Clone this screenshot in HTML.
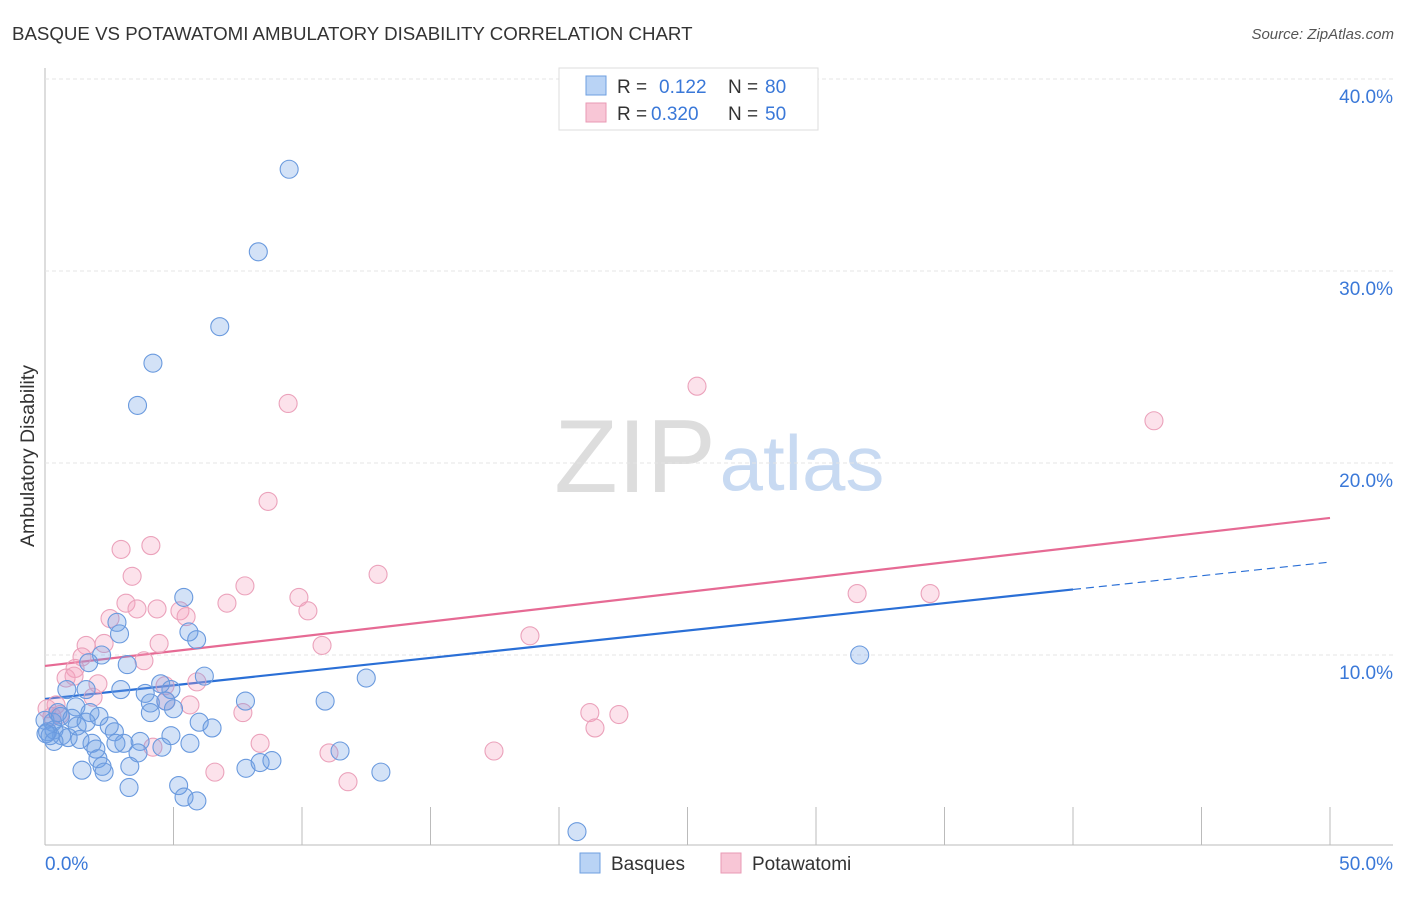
<!DOCTYPE html>
<html><head><meta charset="utf-8"><style>
body{margin:0;background:#fff;font-family:"Liberation Sans",sans-serif}
svg text{font-family:"Liberation Sans",sans-serif}
</style></head><body>
<svg id="c" width="1406" height="892">
<text x="12" y="40" font-size="18.7" fill="#333">BASQUE VS POTAWATOMI AMBULATORY DISABILITY CORRELATION CHART</text>
<text x="1394" y="39" font-size="15" fill="#555" font-style="italic" text-anchor="end">Source: ZipAtlas.com</text>
<text x="34" y="456" font-size="19.5" fill="#333" text-anchor="middle" transform="rotate(-90 34 456)">Ambulatory Disability</text>
<g><text x="635" y="492" font-size="104" fill="#ddd" font-family="Liberation Serif" text-anchor="middle">ZIP</text><text x="802" y="490" font-size="78" fill="#c8daf2" text-anchor="middle">atlas</text></g>
<g id="grid"></g><g id="lines"></g><g id="pts"></g>
<g>
<rect x="559" y="68" width="259" height="62" fill="#fff" stroke="#ddd"/>
<rect x="586" y="76" width="20" height="19" fill="#b9d3f5" stroke="#6e9fe0"/>
<text x="617" y="93" font-size="19" fill="#333">R = </text><text x="659" y="93" font-size="19" fill="#3a78d8">0.122</text>
<text x="728" y="93" font-size="19" fill="#333">N = </text><text x="765" y="93" font-size="19" fill="#3a78d8">80</text>
<rect x="586" y="103" width="20" height="19" fill="#f8c6d6" stroke="#e99ab4"/>
<text x="617" y="120" font-size="19" fill="#333">R = </text><text x="651" y="120" font-size="19" fill="#3a78d8">0.320</text>
<text x="728" y="120" font-size="19" fill="#333">N = </text><text x="765" y="120" font-size="19" fill="#3a78d8">50</text>
</g>
<g>
<rect x="580" y="853" width="20" height="20" fill="#b9d3f5" stroke="#6e9fe0"/><text x="611" y="870" font-size="19" fill="#333">Basques</text>
<rect x="721" y="853" width="20" height="20" fill="#f8c6d6" stroke="#e99ab4"/><text x="752" y="870" font-size="19" fill="#333">Potawatomi</text>
</g>
</svg>
<script>
const yTicks=[10,20,30,40];
const xTickLabels=["0.0%","50.0%"];
const basqueX=[9.5,8.3,6.8,4.2,3.6,5.4,2.8,2.9,5.6,5.9,1.7,2.2,3.2,31.7,6.2,4.5,4.9,0.85,1.6,2.95,3.9,7.8,10.9,12.5,4.1,5.0,4.7,4.1,1.2,1.75,2.1,0.6,0.0,0.3,1.05,2.5,6.0,6.5,0.1,0.35,0.65,0.9,1.36,1.83,2.7,3.07,3.7,4.9,5.64,2.76,1.98,2.06,3.62,4.55,2.22,3.3,2.3,1.44,7.82,8.37,8.83,11.48,13.07,5.2,5.41,5.91,3.27,20.7,0.35,0.2,0.04,0.5,1.25,1.6];
const basqueY=[35.3,31.0,27.1,25.2,23.0,13.0,11.7,11.1,11.2,10.8,9.6,10.0,9.5,10.0,8.9,8.5,8.2,8.2,8.2,8.2,8.0,7.6,7.6,8.8,7.5,7.2,7.6,7.0,7.3,7.0,6.8,6.8,6.6,6.5,6.7,6.3,6.5,6.2,6.0,6.1,5.8,5.7,5.6,5.4,6.0,5.4,5.5,5.8,5.4,5.4,5.1,4.6,4.9,5.2,4.2,4.2,3.9,4.0,4.1,4.4,4.5,5.0,3.9,3.2,2.6,2.4,3.1,0.8,5.5,5.8,5.9,7.0,6.3,6.5];
const potaX=[9.46,8.68,25.37,43.15,4.12,2.96,3.39,12.96,7.78,4.36,7.08,3.15,3.58,2.53,5.25,5.49,9.88,10.23,31.6,34.44,18.87,10.78,4.44,1.6,2.3,1.44,3.85,1.17,0.82,1.13,2.06,5.91,4.71,5.64,7.7,21.2,22.33,21.4,0.43,0.58,0.27,0.08,1.87,8.37,4.2,11.05,17.47,6.61,11.79,4.67];
const potaY=[23.1,18.0,24.0,22.2,15.7,15.5,14.1,14.2,13.6,12.4,12.7,12.7,12.4,11.9,12.3,12.0,13.0,12.3,13.2,13.2,11.0,10.5,10.6,10.5,10.6,9.9,9.7,9.3,8.8,8.9,8.5,8.6,7.6,7.4,7.0,7.0,6.9,6.2,7.4,6.9,6.8,7.2,7.8,5.4,5.2,4.9,5.0,3.9,3.4,8.4];
const basqueLine=[7.71,14.84], potaLine=[9.43,17.14];
const NS="http://www.w3.org/2000/svg";
const X0=45,X1=1330,Y0=847,PX=19.2;
const sx=v=>X0+(X1-X0)*v/50, sy=v=>Y0-v*PX;
function mk(tag,a,parent){const e=document.createElementNS(NS,tag);for(const k in a)e.setAttribute(k,a[k]);parent.appendChild(e);return e;}
const grid=document.getElementById('grid');
let ax=mk('line',{x1:45,y1:68,x2:45,y2:845,stroke:'#bbb'},grid);


let bx=mk('line',{x1:45,y1:845,x2:1393,y2:845,stroke:'#bbb'},grid);


for(let i=1;i<=10;i++){const x=sx(i*5);const t=mk('line',{x1:x,y1:807,x2:x,y2:845,stroke:'#bbb'},grid);

}
yTicks.forEach(v=>{const l=mk('line',{x1:45,y1:sy(v),x2:1393,y2:sy(v),stroke:'#e4e4e4','stroke-dasharray':'4,3'},grid);


const t=mk('text',{x:1393,y:sy(v)+24,'font-size':19,fill:'#3a78d8','text-anchor':'end'},grid);t.textContent=v.toFixed(1)+'%';

});
xTickLabels.forEach((s,i)=>{const t=mk('text',{x:i?1393:45,y:870,'font-size':19,fill:'#3a78d8','text-anchor':i?'end':'start'},grid);t.textContent=s;

});
const pts=document.getElementById('pts');
function series(xs,ys,fill,stroke,name){xs.forEach((x,i)=>{const c=mk('circle',{cx:sx(x),cy:sy(ys[i]),r:9,fill:fill,stroke:stroke,'stroke-width':1.1},pts);

});}
series(potaX,potaY,'rgba(244,160,188,0.3)','#eba2bb',"potawatomi-point");
series(basqueX,basqueY,'rgba(110,160,230,0.3)','#6a9ade',"basque-point");
const lines=document.getElementById('lines');
const yb=x=>basqueLine[0]+(basqueLine[1]-basqueLine[0])*x/50;
let l1=mk('line',{x1:sx(0),y1:sy(yb(0)),x2:sx(40),y2:sy(yb(40)),stroke:'#2a6fd6','stroke-width':2.2},lines);


let l2=mk('line',{x1:sx(40),y1:sy(yb(40)),x2:sx(50),y2:sy(yb(50)),stroke:'#2a6fd6','stroke-width':1.2,'stroke-dasharray':'8,5'},lines);


let l3=mk('line',{x1:sx(0),y1:sy(potaLine[0]),x2:sx(50),y2:sy(potaLine[1]),stroke:'#e66a94','stroke-width':2.2},lines);


</script>
</body></html>
